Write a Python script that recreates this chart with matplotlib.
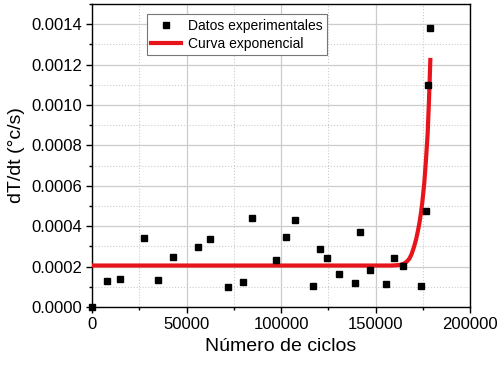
import numpy as np
import matplotlib
matplotlib.use("Agg")
import matplotlib.pyplot as plt
from matplotlib.ticker import MultipleLocator, FormatStrFormatter

plt.rcParams['font.family'] = ['Liberation Sans', 'DejaVu Sans']

# ----------------------------
# data
# ----------------------------
ciclos = [0, 7590, 14650, 27180, 34590, 42710, 55950, 62130, 71840, 79960,
          84540, 97080, 102720, 107490, 117020, 120370, 124430, 130610,
          138900, 141730, 147020, 155670, 159910, 164500, 174030, 176500,
          177740, 178620]
dTdt = [0.0, 0.000129, 0.000140, 0.000340, 0.000134, 0.000246, 0.000297,
        0.000337, 0.000101, 0.000121, 0.000439, 0.000231, 0.000347, 0.000429,
        0.000104, 0.000287, 0.000241, 0.000162, 0.000119, 0.000371, 0.000185,
        0.000112, 0.000244, 0.000205, 0.000106, 0.000475, 0.001101, 0.001379]

# exponential curve, points
curva_x = [0, 50000, 100000, 150000, 158000, 160500, 162900, 165000, 166500,
           168000, 169100, 170300, 171400, 172300, 173200, 174000, 174700,
           175800, 176700, 177600, 178300, 178650, 179000]
curva_y = [0.000205, 0.000205, 0.000205, 0.000205, 0.000205, 0.000206,
           0.000208, 0.000214, 0.000224, 0.000240, 0.000262, 0.000295,
           0.000332, 0.000370, 0.000414, 0.000462, 0.000513, 0.000613,
           0.000728, 0.000860, 0.001025, 0.001120, 0.001223]

fig = plt.figure(figsize=(5.04, 3.68), dpi=100)
ax = fig.add_axes([0.183, 0.166, 0.7495, 0.823])

ax.plot(ciclos, dTdt, linestyle="none", marker="s", markersize=4.2,
        color="black", label="Datos experimentales", clip_on=False, zorder=4)
ax.plot(curva_x, curva_y, color="#e8141b", linewidth=3,
        label="Curva exponencial", zorder=3, solid_joinstyle="round")

ax.set_xlim(0, 200000)
ax.set_ylim(0, 0.0015)
ax.xaxis.set_major_locator(MultipleLocator(50000))
ax.xaxis.set_minor_locator(MultipleLocator(25000))
ax.yaxis.set_major_locator(MultipleLocator(0.0002))
ax.yaxis.set_minor_locator(MultipleLocator(0.0001))
ax.yaxis.set_major_formatter(FormatStrFormatter("%.4f"))
ax.xaxis.set_major_formatter(FormatStrFormatter("%d"))

ax.grid(which="major", color="#cccccc", linewidth=0.9, linestyle="-")
ax.grid(which="minor", color="#cccccc", linewidth=0.8, linestyle=":")
ax.set_axisbelow(True)

ax.tick_params(which="major", direction="out", length=4, width=1,
               labelsize=12, colors="black")
ax.tick_params(which="minor", direction="out", length=2.5, width=1)
for s in ax.spines.values():
    s.set_linewidth(1)
    s.set_color("black")

ax.set_xlabel("Número de ciclos", fontsize=14, labelpad=4)
ax.set_ylabel("dT/dt (°c/s)", fontsize=14, labelpad=4)

leg = ax.legend(loc="upper left", bbox_to_anchor=(0.144, 0.966),
                borderaxespad=0, fontsize=10, fancybox=False,
                edgecolor="#777777", framealpha=1, handlelength=2.2,
                borderpad=0.3, labelspacing=0.3, handletextpad=0.5)
leg.get_frame().set_linewidth(0.8)

fig.savefig("out.png", dpi=100)
